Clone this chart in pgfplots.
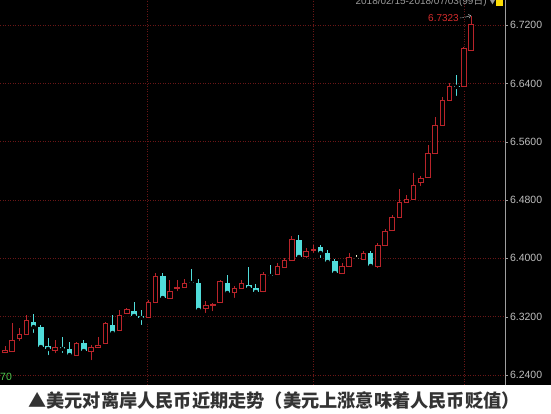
\documentclass[border=0pt]{standalone}
\usepackage{pgfplots}
\pgfplotsset{compat=1.18}
\usepackage{pgfplotstable}
\usetikzlibrary{arrows.meta}
\usepackage{fontspec}
\setmainfont{Liberation Sans}
\newfontfamily\cjk{Noto Sans CJK SC}
\definecolor{upred}{RGB}{185,36,42}
\definecolor{dncyan}{RGB}{80,220,218}
\definecolor{gridred}{RGB}{105,22,22}
\definecolor{ticktext}{RGB}{190,190,190}
\definecolor{captext}{RGB}{51,51,51}
\definecolor{lblred}{RGB}{215,45,45}
\definecolor{lblgreen}{RGB}{80,200,80}
\definecolor{bodyin}{RGB}{0,0,0}

\pgfplotstableread{
i o h l c
1 6.2702 6.2798 6.2674 6.2743
2 6.2729 6.3113 6.2702 6.2880
3 6.2894 6.3045 6.2839 6.2949
4 6.2949 6.3223 6.2935 6.3141
8 6.2743 6.2880 6.2674 6.2784
11 6.2674 6.2853 6.2660 6.2839
13 6.2729 6.2812 6.2578 6.2784
14 6.2784 6.2922 6.2784 6.2798
15 6.2839 6.3127 6.2839 6.3113
17 6.3017 6.3292 6.2990 6.3223
18 6.3250 6.3319 6.3223 6.3292
21 6.3182 6.3429 6.3155 6.3388
22 6.3388 6.3799 6.3388 6.3758
24 6.3443 6.3703 6.3429 6.3539
25 6.3580 6.3703 6.3525 6.3607
26 6.3607 6.3717 6.3593 6.3662
29 6.3319 6.3415 6.3223 6.3360
30 6.3360 6.3388 6.3250 6.3374
31 6.3388 6.3703 6.3374 6.3676
33 6.3525 6.3621 6.3429 6.3593
34 6.3593 6.3703 6.3566 6.3662
37 6.3539 6.3813 6.3511 6.3772
39 6.3772 6.3936 6.3744 6.3895
40 6.3881 6.4005 6.3840 6.3977
41 6.3977 6.4307 6.3977 6.4252
43 6.4019 6.4142 6.3977 6.4088
44 6.4101 6.4183 6.4046 6.4115
48 6.3799 6.3936 6.3772 6.3895
49 6.3895 6.4074 6.3881 6.4005
51 6.3991 6.4101 6.3950 6.4060
53 6.3895 6.4211 6.3840 6.4183
54 6.4183 6.4403 6.4156 6.4375
55 6.4389 6.4595 6.4362 6.4554
56 6.4554 6.4951 6.4526 6.4773
57 6.4773 6.4869 6.4732 6.4801
58 6.4801 6.5171 6.4773 6.5006
59 6.5034 6.5130 6.4965 6.5102
60 6.5116 6.5555 6.5102 6.5432
61 6.5445 6.5939 6.5418 6.5816
62 6.5829 6.6213 6.5802 6.6172
63 6.6172 6.6406 6.6131 6.6364
65 6.6351 6.6899 6.6337 6.6872
66 6.6858 6.7323 6.6831 6.7201
}\up

\pgfplotstableread{
i o h l c
5 6.3127 6.3237 6.2949 6.3058
6 6.3058 6.3086 6.2770 6.2784
7 6.2798 6.2908 6.2647 6.2757
9 6.2784 6.2922 6.2674 6.2757
10 6.2757 6.2853 6.2647 6.2674
12 6.2839 6.2880 6.2702 6.2729
16 6.3086 6.3223 6.2949 6.2976
19 6.3278 6.3401 6.3196 6.3209
20 6.3209 6.3292 6.3058 6.3182
23 6.3758 6.3799 6.3429 6.3456
27 6.3676 6.3854 6.3607 6.3662
28 6.3662 6.3717 6.3264 6.3292
32 6.3662 6.3772 6.3497 6.3525
35 6.3635 6.3881 6.3580 6.3593
36 6.3593 6.3648 6.3484 6.3539
38 6.3772 6.3909 6.3744 6.3758
42 6.4252 6.4320 6.4005 6.4019
45 6.4156 6.4183 6.3977 6.4074
46 6.4074 6.4115 6.3922 6.3950
47 6.3964 6.3991 6.3772 6.3799
52 6.4074 6.4101 6.3840 6.3895
64 6.6364 6.6515 6.6200 6.6351
}\down

\pgfplotstableread{
i o h l c
50 6.3991 6.4046 6.3936 6.3991
}\flat

\pgfplotsset{
  base/.style={
    at={(0pt,29pt)}, anchor=south west,
    scale only axis, width=505pt, height=385pt,
    xmin=0.3027, xmax=70.73,
    ymin=6.2263, ymax=6.7544,
  }
}

\begin{document}
\begin{tikzpicture}[x=1pt,y=1pt]
\useasboundingbox (0,0) rectangle (551,414);
\fill[white] (0,0) rectangle (551,414);
\fill[black] (0,29) rectangle (551,414);
\begin{axis}[
  base,
  axis x line*=bottom, axis y line*=right,
  x axis line style={draw=none},
  y axis line style={draw=gray!75, line width=0.6pt},
  xtick={20.8,43.96,65.0}, xticklabels={},
  xtick style={draw=none},
  ytick={6.24,6.32,6.40,6.48,6.56,6.64,6.72},
  ytick style={draw=gray!75},
  tick align=outside, major tick length=3pt,
  xmajorgrids, ymajorgrids,
  grid style={gridred, line width=0.6pt, dash pattern=on 1pt off 1.5pt},
  yticklabel style={text=ticktext, font=\fontsize{10.5}{12}\selectfont, xshift=-1.5pt},
  /pgf/number format/.cd, fixed, fixed zerofill, precision=4, assume math mode=true,
]
% wicks
\addplot[only marks, mark=none, error bars/.cd, y dir=plus, y explicit, error mark=none,
  error bar style={line width=1pt, draw=upred}]
  table[x=i, y=l, y error plus expr={\thisrow{h}-\thisrow{l}}] {\up};
\addplot[only marks, mark=none, error bars/.cd, y dir=plus, y explicit, error mark=none,
  error bar style={line width=1pt, draw=dncyan}]
  table[x=i, y=l, y error plus expr={\thisrow{h}-\thisrow{l}}] {\down};
\addplot[only marks, mark=none, error bars/.cd, y dir=plus, y explicit, error mark=none,
  error bar style={line width=1pt, draw=white!85!yellow}]
  table[x=i, y=l, y error plus expr={\thisrow{h}-\thisrow{l}}] {\flat};
% down bodies
\addplot[only marks, mark=none, error bars/.cd, y dir=plus, y explicit, error mark=none,
  error bar style={line width=5.5pt, draw=dncyan}]
  table[x=i, y=c, y error plus expr={max(\thisrow{o}-\thisrow{c},0.0014)}] {\down};
\addplot[only marks, mark=none, error bars/.cd, y dir=plus, y explicit, error mark=none,
  error bar style={line width=5.5pt, draw=white!85!yellow}]
  table[x=i, y=c, y error plus expr={0.0014}] {\flat};
\end{axis}
% up bodies: hollow red
\begin{axis}[base, axis lines=none, ticks=none, ybar stacked, bar width=4.5pt]
\addplot[draw=none, fill=none] table[x=i, y=o] {\up};
\addplot[draw=upred, fill=bodyin, line width=1pt] table[x=i, y expr={max(\thisrow{c}-\thisrow{o},0.0001)}] {\up};
\end{axis}
% annotations
\node[anchor=base east, text=gray!80, font=\fontsize{10}{12}\selectfont, inner sep=0pt] at (487,409) {2018/02/15-2018/07/03(99{\cjk 日})};
\node[anchor=base west, text=gray!80, font=\fontsize{7}{8}\selectfont, inner sep=0pt] at (489,409) {{\cjk ▼}};
\fill[yellow!80!orange] (496,408) rectangle (503,414);
\node[anchor=east, text=lblred, font=\fontsize{10}{12}\selectfont, inner sep=0pt] at (459,396) {6.7323};
\draw[gray!60, line width=0.5pt, dash pattern=on 1.5pt off 1pt] (460,396) -- (466,397);
\draw[gray!60, line width=0.5pt, -{Straight Barb[length=2pt]}] (466,397) -- (471,398.5);
\node[anchor=west, text=lblgreen, font=\fontsize{10.5}{12}\selectfont, inner sep=0pt] at (0,37) {70};
\node[text=captext, font=\fontsize{18.2}{20}\selectfont\cjk\bfseries, inner sep=0pt] at (274,13) {▲美元对离岸人民币近期走势（美元上涨意味着人民币贬值）};
\end{tikzpicture}
\end{document}
